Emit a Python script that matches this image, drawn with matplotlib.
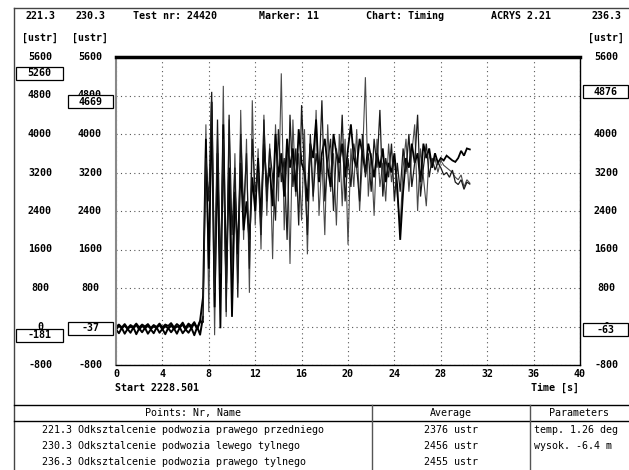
import numpy as np
import matplotlib
matplotlib.use("Agg")
import matplotlib.pyplot as plt
from matplotlib.transforms import blended_transform_factory
from matplotlib.patches import Rectangle
from matplotlib.lines import Line2D

# ---------------- data ----------------
t_step = 0.25
x_ticks = [0, 4, 8, 12, 16, 20, 24, 28, 32, 36, 40]
y_ticks = [5600, 4800, 4000, 3200, 2400, 1600, 800, 0, -800]

flat_221 = [-60, -140, -30, -150, -50, -130, -20, -160, -40, -120, -30, -150, -60, -140, -20,
            -130, -50, -160, -30, -120, -40, -150, -20, -140, -60, -130, -30, -181, -10, -170]
flat_230 = [-10, 40, -20, 50, -37, 30, -10, 60, -20, 40, 0, 50, -30, 30, -10,
            60, -20, 40, 10, 70, -20, 50, 0, 80, -30, 60, 10, 90, -37, 120]
flat_236 = [-63, 10, -40, 20, -50, 0, -30, 30, -60, 10, -40, 20, -50, 0, -30,
            30, -60, 10, -40, 20, -50, 0, -20, 40, -63, 30, -30, 60, -50, 100]

act_221 = [200, 4200, 300, 4500, -181, 3900, 500, 5000, 200, 4300,
           1100, 3600, 900, 4500, 1800, 3900, 700, 4700, 2100, 3700,
           1600, 4400, 2300, 3800, 1400, 4200, 2600, 5260, 2000, 3900,
           1300, 4300, 2700, 3600, 2200, 4100, 1500, 3800, 2600, 4500,
           2300, 3500, 1900, 4200, 2800, 3600, 2100, 4000, 2500, 3900,
           1700, 3700, 2900, 4100, 2400, 3500, 5180, 2700, 3600, 2300,
           3900, 2900, 3400, 2600, 3800, 3000, 3500, 2700, 2100, 3300,
           3900, 2800, 3600, 4200, 2400, 3700, 3100, 2500, 3600, 3300,
           3500, 3200, 3450, 3350, 3300, 3250, 3200, 3100, 3050, 3150,
           2900, 3050, 2980]
act_230 = [600, 3900, 1200, 4669, 400, 3600, -37, 4200, 900, 3300,
           200, 2800, 1500, 3400, 2000, 2600, 1800, 3100, 2400, 3500,
           2200, 3800, 2900, 3300, 2500, 4000, 3100, 3600, 2700, 3900,
           3300, 3700, 2800, 4100, 3400, 3200, 2600, 3800, 3500, 4300,
           3000, 3600, 3900, 3300, 2900, 4000, 3600, 3400, 3800, 3100,
           3700, 4200, 3500, 3300, 3900, 3600, 3200, 3800, 3500, 3100,
           3600, 3300, 3700, 3000, 3400, 3200, 3600, 2900, 1800, 2800,
           3500, 3300, 3800, 3400, 3600, 3000, 3800, 3500, 3700, 3300,
           3600, 3400, 3500, 3450, 3550, 3500, 3450, 3420, 3500, 3650,
           3550, 3700, 3680]
act_236 = [100, 3500, 2600, 4876, 700, 4300, 1100, 3900, 300, 4400,
           1900, 3300, 600, 4000, 2400, 3600, 1200, 3900, 2800, 3200,
           1900, 4300, 2600, 3700, 3100, 2200, 4100, 3000, 3500, 1800,
           4400, 2900, 3700, 2100, 4600, 3200, 1900, 4000, 2700, 3600,
           3100, 4700, 2600, 3400, 3900, 2400, 3700, 3000, 4400, 2600,
           3500, 2900, 3800, 3300, 2600, 4000, 3100, 3600, 2800, 3900,
           3300, 4500, 2700, 3500, 3100, 3800, 2600, 3400, 2800, 3700,
           3200, 4000, 2900, 3400, 4400, 2700, 3300, 3800, 3100, 3500,
           3250, 3400, 3300, 3150, 3200, 3100, 3250, 3000, 2950, 3050,
           2850, 3000, 2960]

channels = ["221.3", "230.3", "236.3"]
names = ["Odksztalcenie podwozia prawego przedniego",
         "Odksztalcenie podwozia lewego tylnego",
         "Odksztalcenie podwozia prawego tylnego"]
averages = [2376, 2456, 2455]
params = ["temp. 1.26 deg", "wysok. -6.4 m"]

# ---------------- figure ----------------
W, H = 629, 470
fig = plt.figure(figsize=(W / 100, H / 100), dpi=100)
fig.patch.set_facecolor("white")
FONT = "DejaVu Sans Mono"
FS = 7.2


def fx(x):
    return x / W


def fy(y):
    return 1 - y / H


ax = fig.add_axes([fx(116), fy(365), fx(580) - fx(116), fy(57) - fy(365)])
ax.set_xlim(0, 40)
ax.set_ylim(-800, 5600)

flats = [flat_221, flat_230, flat_236]
acts = [act_221, act_230, act_236]
series = [f + a for f, a in zip(flats, acts)]
styles = [dict(color="#4a4a4a", lw=0.8), dict(color="black", lw=1.3), dict(color="#1a1a1a", lw=0.9)]
for flat, vals, st in zip(flats, series, styles):
    t = np.arange(len(vals)) * t_step
    n = len(flat) + 1
    ax.plot(t[:n], vals[:n], color="black", lw=1.4, zorder=2)
    ax.plot(t[n - 1:], vals[n - 1:], solid_joinstyle="miter", zorder=2, **st)

ax.set_xticks(x_ticks)
ax.set_xticklabels([str(v) for v in x_ticks], fontfamily=FONT, fontsize=FS, fontweight="bold")
ax.set_yticks(y_ticks)
ax.set_yticklabels([])
ax.tick_params(axis="both", length=0, pad=3)
ax.grid(True, color="#555555", linestyle=(0, (1, 3)), lw=0.8)
ax.set_axisbelow(True)

ax.spines["top"].set_linewidth(2.5)
ax.spines["top"].set_color("black")
ax.spines["left"].set_color("#888888")
ax.spines["left"].set_linewidth(1.5)
ax.spines["right"].set_linewidth(1.0)
ax.spines["bottom"].set_linewidth(1.0)

# y labels in three columns
btr = blended_transform_factory(fig.transFigure, ax.transData)
col_x = [40, 90, 606]
for cx in col_x:
    for v in y_ticks:
        ax.text(fx(cx), v, str(v), transform=btr, ha="center", va="center",
                fontfamily=FONT, fontsize=FS, fontweight="bold", clip_on=False, zorder=3)

# marker boxes (max / min of each channel)
box_x = [(16, 63), (68, 113), (583, 628)]
box_h = 275
for vals, (x0, x1) in zip(series, box_x):
    for v in (max(vals), min(vals)):
        r = Rectangle((fx(x0), v - box_h / 2), fx(x1) - fx(x0), box_h, transform=btr,
                      facecolor="white", edgecolor="black", lw=0.9, clip_on=False, zorder=4)
        ax.add_patch(r)
        ax.text(fx((x0 + x1) / 2), v, str(v), transform=btr, ha="center", va="center",
                fontfamily=FONT, fontsize=FS, fontweight="bold", clip_on=False, zorder=5)

# header texts
hdr = [(40, channels[0]), (90, channels[1]), (175, "Test nr: 24420"), (289, "Marker: 11"),
       (405, "Chart: Timing"), (521, "ACRYS 2.21"), (606, channels[2])]
for x, s in hdr:
    fig.text(fx(x), fy(16), s, ha="center", va="center", fontfamily=FONT, fontsize=FS, fontweight="bold")
for x in (40, 90, 606):
    fig.text(fx(x), fy(38), "[ustr]", ha="center", va="center", fontfamily=FONT, fontsize=FS, fontweight="bold")

fig.text(fx(115), fy(388), "Start 2228.501", ha="left", va="center", fontfamily=FONT, fontsize=FS, fontweight="bold")
fig.text(fx(579), fy(388), "Time [s]", ha="right", va="center", fontfamily=FONT, fontsize=FS, fontweight="bold")

# frame lines
def fline(x0, y0, x1, y1, lw=1.0, color="black"):
    fig.add_artist(Line2D([fx(x0), fx(x1)], [fy(y0), fy(y1)], color=color, lw=lw,
                          transform=fig.transFigure))

fline(14, 8, 629, 8, lw=1.0, color="#444444")
fline(14, 8, 14, 470, lw=1.0, color="#444444")
fline(14, 405, 629, 405)
fline(14, 421, 629, 421)
fline(372, 405, 372, 470, color="#555555")
fline(530, 405, 530, 470, color="#555555")

# table
fig.text(fx(193), fy(413), "Points: Nr, Name", ha="center", va="center", fontfamily=FONT, fontsize=FS)
fig.text(fx(451), fy(413), "Average", ha="center", va="center", fontfamily=FONT, fontsize=FS)
fig.text(fx(579), fy(413), "Parameters", ha="center", va="center", fontfamily=FONT, fontsize=FS)
row_y = [430, 446, 462]
for i, y in enumerate(row_y):
    fig.text(fx(42), fy(y), f"{channels[i]} {names[i]}", ha="left", va="center", fontfamily=FONT, fontsize=FS)
    fig.text(fx(451), fy(y), f"{averages[i]} ustr", ha="center", va="center", fontfamily=FONT, fontsize=FS)
    if i < len(params):
        fig.text(fx(534), fy(y), params[i], ha="left", va="center", fontfamily=FONT, fontsize=FS)

fig.savefig("out.png", dpi=100, facecolor="white")
